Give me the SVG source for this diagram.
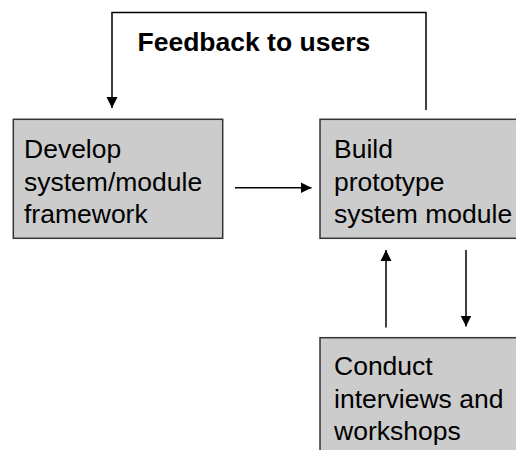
<svg xmlns="http://www.w3.org/2000/svg" width="516" height="450" viewBox="0 0 516 450">
<style>
.box{fill:#cccccc;stroke:#333333;stroke-width:1.5}
.lbl{font-family:"Liberation Sans",Arial,Helvetica,sans-serif;font-size:26.5px;fill:#000000}
.bold{font-family:"Liberation Sans",Arial,Helvetica,sans-serif;font-size:26.5px;font-weight:bold;fill:#000000}
.conn{fill:none;stroke:#000000;stroke-width:1.5}
</style>
<defs>
<marker id="arrow" markerUnits="userSpaceOnUse" markerWidth="12" markerHeight="12" refX="11" refY="5.5" orient="auto" viewBox="0 0 12 11">
<path d="M0,0 L11,5.5 L0,11 z" fill="#000000"/>
</marker>
</defs>
<rect width="516" height="450" fill="#ffffff"/>
<g id="connectors">
<polyline class="conn" points="426,110 426,12.5 112,12.5 112,108" marker-end="url(#arrow)"/>
<line class="conn" x1="235" y1="187.7" x2="311.5" y2="187.7" marker-end="url(#arrow)"/>
<line class="conn" x1="386" y1="327.5" x2="386" y2="250" marker-end="url(#arrow)"/>
<line class="conn" x1="466" y1="250" x2="466" y2="326.5" marker-end="url(#arrow)"/>
<text class="bold" x="137.5" y="51">Feedback to users</text>
</g>
<g id="develop">
<rect class="box" x="13.3" y="119.3" width="209.4" height="119"/>
<text class="lbl" x="24" y="158">Develop</text>
<text class="lbl" x="24" y="190.5">system/module</text>
<text class="lbl" x="24" y="222.5">framework</text>
</g>
<g id="build">
<rect class="box" x="320" y="119.3" width="220" height="119"/>
<text class="lbl" x="334" y="158">Build</text>
<text class="lbl" x="334" y="190.5">prototype</text>
<text class="lbl" x="334" y="222.5">system module</text>
</g>
<g id="conduct">
<rect class="box" x="320" y="337.7" width="220" height="130"/>
<text class="lbl" x="334" y="375">Conduct</text>
<text class="lbl" x="334" y="407.5">interviews and</text>
<text class="lbl" x="334" y="440">workshops</text>
</g>
</svg>
